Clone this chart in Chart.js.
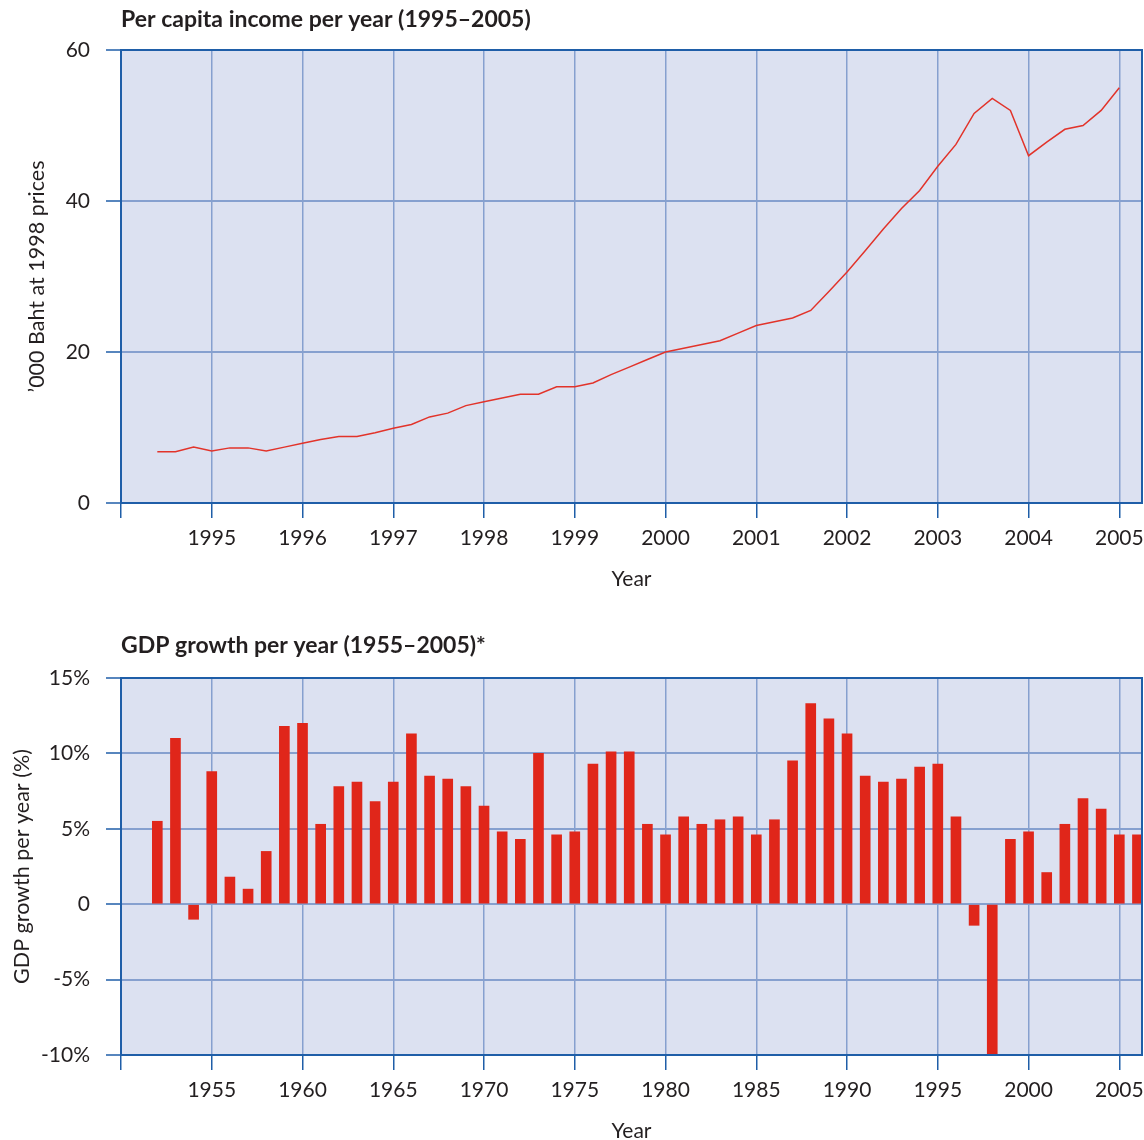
<!DOCTYPE html>
<html><head><meta charset="utf-8">
<script src="https://cdn.jsdelivr.net/npm/chart.js@4.4.1/dist/chart.umd.min.js"></script>
<style>
html,body{margin:0;padding:0;background:#fff;overflow:hidden;width:1144px;height:1140px}
#w1{position:absolute;left:0;top:0;width:1144px;height:600px}
#w2{position:absolute;left:0;top:600px;width:1144px;height:560px}
</style></head><body>
<div id="w1"><canvas id="c1"></canvas></div>
<div id="w2"><canvas id="c2"></canvas></div>
<script>
// ---- Data: per capita income ('000 Baht at 1998 prices) ----
const incomeYears = [1994.4,1994.6,1994.8,1995.0,1995.2,1995.4,1995.6,1995.8,
  1996.0,1996.2,1996.4,1996.6,1996.8,1997.0,1997.2,1997.4,1997.6,1997.8,
  1998.0,1998.2,1998.4,1998.6,1998.8,1999.0,1999.2,1999.4,1999.6,1999.8,
  2000.0,2000.2,2000.4,2000.6,2000.8,2001.0,2001.2,2001.4,2001.6,2001.8,
  2002.0,2002.2,2002.4,2002.6,2002.8,2003.0,2003.2,2003.4,2003.6,2003.8,
  2004.0,2004.2,2004.4,2004.6,2004.8,2005.0];
const incomeValues = [6.8,6.8,7.4,6.9,7.3,7.3,6.9,7.4,
  7.9,8.4,8.8,8.8,9.3,9.9,10.4,11.4,11.9,12.9,
  13.4,13.9,14.4,14.4,15.4,15.4,15.9,17.0,18.0,19.0,
  20.0,20.5,21.0,21.5,22.5,23.5,24.0,24.5,25.5,28.0,
  30.6,33.4,36.3,39.0,41.4,44.6,47.5,51.6,53.6,52.0,
  46.0,47.8,49.5,50.0,52.0,55.0];
const incomeXTickLabels = ['','1995','1996','1997','1998','1999','2000','2001','2002','2003','2004','2005'];
const incomeYTickLabels = ['0','20','40','60'];

// ---- Data: GDP growth per year (%) ----
const growthYears = [1952,1953,1954,1955,1956,1957,1958,1959,1960,1961,1962,1963,1964,1965,
  1966,1967,1968,1969,1970,1971,1972,1973,1974,1975,1976,1977,1978,1979,1980,1981,1982,1983,
  1984,1985,1986,1987,1988,1989,1990,1991,1992,1993,1994,1995,1996,1997,1998,1999,2000,2001,
  2002,2003,2004,2005,2006];
const growthValues = [5.5,11.0,-1.0,8.8,1.8,1.0,3.5,11.8,12.0,5.3,7.8,8.1,6.8,8.1,
  11.3,8.5,8.3,7.8,6.5,4.8,4.3,10.0,4.6,4.8,9.3,10.1,10.1,5.3,4.6,5.8,5.3,5.6,
  5.8,4.6,5.6,9.5,13.3,12.3,11.3,8.5,8.1,8.3,9.1,9.3,5.8,-1.4,-10.5,4.3,4.8,2.1,
  5.3,7.0,6.3,4.6,4.6];
const growthXTickLabels = ['','1955','1960','1965','1970','1975','1980','1985','1990','1995','2000','2005'];
const growthYTickLabels = ['-10%','-5%','0','5%','10%','15%'];

const BG = '#dce1f1';
const GRID = '#86a0cf';
const BORDER = '#1f5ea8';
const TEXT = '#231f20';
const FONT = 'Lato';

const framePlugin = {
  id: 'frame',
  beforeDraw(chart) {
    const {ctx, chartArea: a} = chart;
    ctx.save();
    ctx.fillStyle = BG;
    ctx.fillRect(a.left, a.top, a.right - a.left, a.bottom - a.top);
    ctx.restore();
  },
  afterDraw(chart, args, opts) {
    const {ctx, chartArea: a} = chart;
    ctx.save();
    ctx.strokeStyle = BORDER;
    ctx.lineWidth = 2;
    ctx.strokeRect(a.left, a.top, a.right - a.left, a.bottom - a.top);
    ctx.fillStyle = TEXT;
    ctx.font = 'bold 23px ' + FONT;
    ctx.textBaseline = 'middle';
    ctx.textAlign = 'left';
    ctx.fillText(opts.text, a.left, opts.y);
    ctx.restore();
  }
};

function xScale(min, max, step, labels, height, titlePad) {
  return {
    type: 'linear', min: min, max: max, offset: false,
    ticks: { stepSize: step, includeBounds: false, autoSkip: false, maxRotation: 0,
      padding: 8, color: TEXT, font: {family: FONT, size: 21},
      callback: (v, i) => labels[i] },
    grid: { offset: false, color: GRID, lineWidth: 1.5, tickColor: BORDER, tickWidth: 1.5, tickLength: 15 },
    border: { display: true, color: BORDER, width: 2 },
    title: { display: true, text: 'Year', color: TEXT, font: {family: FONT, size: 21, lineHeight: 1.2},
      padding: {top: 0, bottom: titlePad} },
    afterFit(s) { s.height = height; s.paddingLeft = 0; s.paddingRight = 0; }
  };
}
function yScale(min, max, step, labels, title, titlePad) {
  return {
    type: 'linear', min: min, max: max,
    ticks: { stepSize: step, padding: 16, color: TEXT, font: {family: FONT, size: 21},
      callback: (v, i) => labels[i] },
    grid: { color: GRID, lineWidth: 2, tickColor: BORDER, tickWidth: 1.5, tickLength: 15 },
    border: { display: true, color: BORDER, width: 2 },
    title: { display: true, text: title, color: TEXT, font: {family: FONT, size: 21.5, lineHeight: 1.2},
      padding: {top: titlePad, bottom: 0} },
    afterFit(s) { s.width = 121; s.paddingTop = 0; s.paddingBottom = 0; }
  };
}

new Chart(document.getElementById('c1'), {
  type: 'line',
  data: { datasets: [{
    data: incomeYears.map((x, i) => ({x: x, y: incomeValues[i]})),
    borderColor: '#e2332a', borderWidth: 1.5, pointRadius: 0, tension: 0, fill: false
  }]},
  options: {
    responsive: true, maintainAspectRatio: false, animation: false,
    layout: { padding: {top: 50, right: 2, bottom: 0, left: 0} },
    plugins: { legend: {display: false}, tooltip: {enabled: false},
      frame: { text: 'Per capita income per year (1995–2005)', y: 20 } },
    scales: {
      x: xScale(1994, 2005.25, 1, incomeXTickLabels, 97, 8),
      y: yScale(0, 60, 20, incomeYTickLabels, '’000 Baht at 1998 prices', 24)
    }
  },
  plugins: [framePlugin]
});

new Chart(document.getElementById('c2'), {
  type: 'bar',
  data: { datasets: [{
    data: growthYears.map((x, i) => ({x: x, y: growthValues[i]})),
    backgroundColor: '#e0261a', borderWidth: 0, barThickness: 10
  }]},
  options: {
    responsive: true, maintainAspectRatio: false, animation: false,
    layout: { padding: {top: 78, right: 2, bottom: 0, left: 0} },
    plugins: { legend: {display: false}, tooltip: {enabled: false},
      frame: { text: 'GDP growth per year (1955–2005)*', y: 46 } },
    scales: {
      x: xScale(1950, 2006.25, 5, growthXTickLabels, 105, 16),
      y: yScale(-10, 15, 5, growthYTickLabels, 'GDP growth per year (%)', 9)
    }
  },
  plugins: [framePlugin]
});
</script>
</body></html>
